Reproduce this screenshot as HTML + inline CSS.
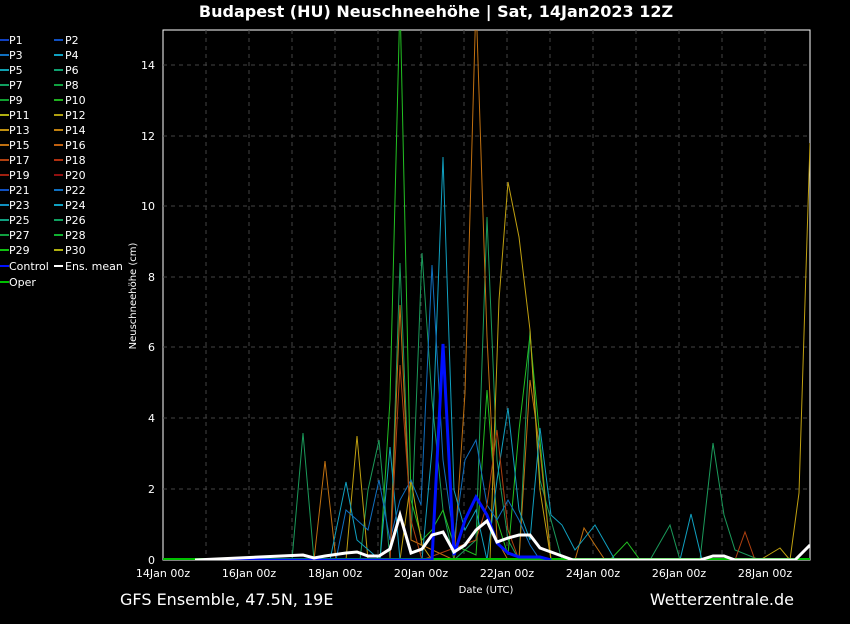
<!DOCTYPE html>
<html><head><meta charset="utf-8"><style>
body{margin:0;background:#000;width:850px;height:620px;overflow:hidden;font-family:"DejaVu Sans","Liberation Sans",sans-serif}
</style></head><body>
<svg width="850" height="620" xmlns="http://www.w3.org/2000/svg" font-family="DejaVu Sans, Liberation Sans, sans-serif">
<rect width="850" height="620" fill="#000"/>
<text x="436" y="17" fill="#fff" font-size="16" font-weight="bold" text-anchor="middle">Budapest  (HU)  Neuschneehöhe | Sat, 14Jan2023 12Z</text>
<rect x="163" y="30" width="647" height="530" fill="#000" stroke="#fff" stroke-width="1"/>
<g stroke="#444" stroke-dasharray="4,4" stroke-width="1">
<line x1="206" y1="30" x2="206" y2="560"/><line x1="249" y1="30" x2="249" y2="560"/><line x1="292" y1="30" x2="292" y2="560"/><line x1="335" y1="30" x2="335" y2="560"/><line x1="378" y1="30" x2="378" y2="560"/><line x1="421" y1="30" x2="421" y2="560"/><line x1="464" y1="30" x2="464" y2="560"/><line x1="507" y1="30" x2="507" y2="560"/><line x1="550" y1="30" x2="550" y2="560"/><line x1="593" y1="30" x2="593" y2="560"/><line x1="636" y1="30" x2="636" y2="560"/><line x1="679" y1="30" x2="679" y2="560"/><line x1="722" y1="30" x2="722" y2="560"/><line x1="765" y1="30" x2="765" y2="560"/>
<line x1="163" y1="489" x2="810" y2="489"/><line x1="163" y1="418" x2="810" y2="418"/><line x1="163" y1="347" x2="810" y2="347"/><line x1="163" y1="277" x2="810" y2="277"/><line x1="163" y1="206" x2="810" y2="206"/><line x1="163" y1="136" x2="810" y2="136"/><line x1="163" y1="65" x2="810" y2="65"/>
</g>
<g fill="#fff" font-size="11" text-anchor="end">
<text x="155" y="564">0</text><text x="155" y="493">2</text><text x="155" y="422">4</text><text x="155" y="351">6</text><text x="155" y="281">8</text><text x="155" y="210">10</text><text x="155" y="140">12</text><text x="155" y="69">14</text>
</g>
<g fill="#fff" font-size="11" text-anchor="middle">
<text x="163" y="577">14Jan 00z</text><text x="249" y="577">16Jan 00z</text><text x="335" y="577">18Jan 00z</text><text x="421" y="577">20Jan 00z</text><text x="507" y="577">22Jan 00z</text><text x="593" y="577">24Jan 00z</text><text x="679" y="577">26Jan 00z</text><text x="765" y="577">28Jan 00z</text>
<text x="486" y="593" font-size="10">Date (UTC)</text>
</g>
<text transform="translate(136,296) rotate(-90)" fill="#fff" font-size="10" text-anchor="middle">Neuschneehöhe (cm)</text>
<text x="120" y="605" fill="#fff" font-size="16">GFS Ensemble, 47.5N, 19E</text>
<text x="794" y="605" fill="#fff" font-size="16" text-anchor="end">Wetterzentrale.de</text>
<defs><clipPath id="c"><rect x="163" y="30" width="647" height="530"/></clipPath></defs>
<g clip-path="url(#c)" fill="none" stroke-width="1">
<polyline stroke="#1a9a5a" points="195,560 292,560 303,433 314,560 360,560 368,490 379,440 390,560 400,263 411,540 422,253 432,400 443,510 454,560 476,540 487,217 497,460 508,540 519,560 530,330 540,480 551,520 562,560 650,560 670,525 680,560 700,560 713,443 724,515 735,550 760,560"/>
<polyline stroke="#22c022" points="195,560 380,560 390,400 400,0 411,500 422,540 432,530 443,510 454,545 476,555 487,390 497,520 508,555 519,430 530,335 540,440 551,560 610,560 627,542 640,560 810,560"/>
<polyline stroke="#c07010" points="195,560 314,560 325,461 336,560 390,560 400,305 411,540 454,560 465,393 476,0 487,337 497,540 508,560 519,560 530,380 540,450 551,560 575,560 584,528 595,545 605,560"/>
<polyline stroke="#c0a010" points="195,560 346,560 357,436 368,560 400,560 411,480 422,545 432,560 490,560 499,300 508,182 519,237 530,330 540,490 551,560 760,560 780,548 790,560 799,493 810,143"/>
<polyline stroke="#10a0c0" points="195,560 330,560 346,482 357,540 380,560 390,447 400,560 422,560 432,450 443,157 454,490 465,530 476,510 487,560 497,480 508,408 519,510 530,540 540,428 551,515 562,525 575,550 595,525 615,560 680,560 691,514 702,560 810,560"/>
<polyline stroke="#1070c0" points="195,560 336,560 346,510 357,520 368,530 379,480 390,540 400,500 411,480 421,505 432,265 443,460 454,540 465,460 476,440 487,505 497,520 508,500 519,520 530,545 540,560"/>
<polyline stroke="#b04010" points="195,560 390,560 400,365 411,520 422,560 476,540 487,505 497,430 508,530 519,560 735,560 745,532 755,560"/>
<polyline stroke="#00c000" stroke-width="2" points="163,559 810,559"/>
<polyline stroke="#0010ff" stroke-width="3" points="195,560 432,560 443,344 454,555 465,520 476,497 487,515 497,543 508,553 519,557 540,557 551,560"/>
<polyline stroke="#fff" stroke-width="3" points="195,560 303,555 314,558 325,556 346,553 357,552 368,556 379,556 390,549 400,515 411,553 422,549 432,535 443,532 454,552 465,545 476,530 487,521 497,542 508,538 519,535 530,535 540,548 551,552 562,556 573,560 700,560 713,556 724,556 735,560 795,560 810,545"/>
</g>
<g font-size="11" fill="#fff">
<g stroke-width="2">
<line x1="0" y1="40" x2="9" y2="40" stroke="#1040c0"/><line x1="54" y1="40" x2="63" y2="40" stroke="#1050c0"/>
<line x1="0" y1="55" x2="9" y2="55" stroke="#1070c0"/><line x1="54" y1="55" x2="63" y2="55" stroke="#10a0c0"/>
<line x1="0" y1="70" x2="9" y2="70" stroke="#10a0b0"/><line x1="54" y1="70" x2="63" y2="70" stroke="#10a070"/>
<line x1="0" y1="85" x2="9" y2="85" stroke="#10a060"/><line x1="54" y1="85" x2="63" y2="85" stroke="#10a040"/>
<line x1="0" y1="100" x2="9" y2="100" stroke="#10a030"/><line x1="54" y1="100" x2="63" y2="100" stroke="#20b020"/>
<line x1="0" y1="115" x2="9" y2="115" stroke="#b0b010"/><line x1="54" y1="115" x2="63" y2="115" stroke="#b0a010"/>
<line x1="0" y1="130" x2="9" y2="130" stroke="#c09010"/><line x1="54" y1="130" x2="63" y2="130" stroke="#c08010"/>
<line x1="0" y1="145" x2="9" y2="145" stroke="#c07010"/><line x1="54" y1="145" x2="63" y2="145" stroke="#c06010"/>
<line x1="0" y1="160" x2="9" y2="160" stroke="#b04010"/><line x1="54" y1="160" x2="63" y2="160" stroke="#b03010"/>
<line x1="0" y1="175" x2="9" y2="175" stroke="#a02010"/><line x1="54" y1="175" x2="63" y2="175" stroke="#901010"/>
<line x1="0" y1="190" x2="9" y2="190" stroke="#1050c0"/><line x1="54" y1="190" x2="63" y2="190" stroke="#1070c0"/>
<line x1="0" y1="205" x2="9" y2="205" stroke="#1090c0"/><line x1="54" y1="205" x2="63" y2="205" stroke="#10a0c0"/>
<line x1="0" y1="220" x2="9" y2="220" stroke="#10a080"/><line x1="54" y1="220" x2="63" y2="220" stroke="#10a060"/>
<line x1="0" y1="235" x2="9" y2="235" stroke="#10a040"/><line x1="54" y1="235" x2="63" y2="235" stroke="#10b030"/>
<line x1="0" y1="250" x2="9" y2="250" stroke="#10c010"/><line x1="54" y1="250" x2="63" y2="250" stroke="#b0b010"/>
<line x1="0" y1="266" x2="9" y2="266" stroke="#0010ff"/><line x1="54" y1="266" x2="63" y2="266" stroke="#fff"/>
<line x1="0" y1="282" x2="9" y2="282" stroke="#00c000"/>
</g>
<text x="9" y="44">P1</text><text x="65" y="44">P2</text>
<text x="9" y="59">P3</text><text x="65" y="59">P4</text>
<text x="9" y="74">P5</text><text x="65" y="74">P6</text>
<text x="9" y="89">P7</text><text x="65" y="89">P8</text>
<text x="9" y="104">P9</text><text x="65" y="104">P10</text>
<text x="9" y="119">P11</text><text x="65" y="119">P12</text>
<text x="9" y="134">P13</text><text x="65" y="134">P14</text>
<text x="9" y="149">P15</text><text x="65" y="149">P16</text>
<text x="9" y="164">P17</text><text x="65" y="164">P18</text>
<text x="9" y="179">P19</text><text x="65" y="179">P20</text>
<text x="9" y="194">P21</text><text x="65" y="194">P22</text>
<text x="9" y="209">P23</text><text x="65" y="209">P24</text>
<text x="9" y="224">P25</text><text x="65" y="224">P26</text>
<text x="9" y="239">P27</text><text x="65" y="239">P28</text>
<text x="9" y="254">P29</text><text x="65" y="254">P30</text>
<text x="9" y="270">Control</text><text x="65" y="270">Ens. mean</text>
<text x="9" y="286">Oper</text>
</g>
</svg>
</body></html>
